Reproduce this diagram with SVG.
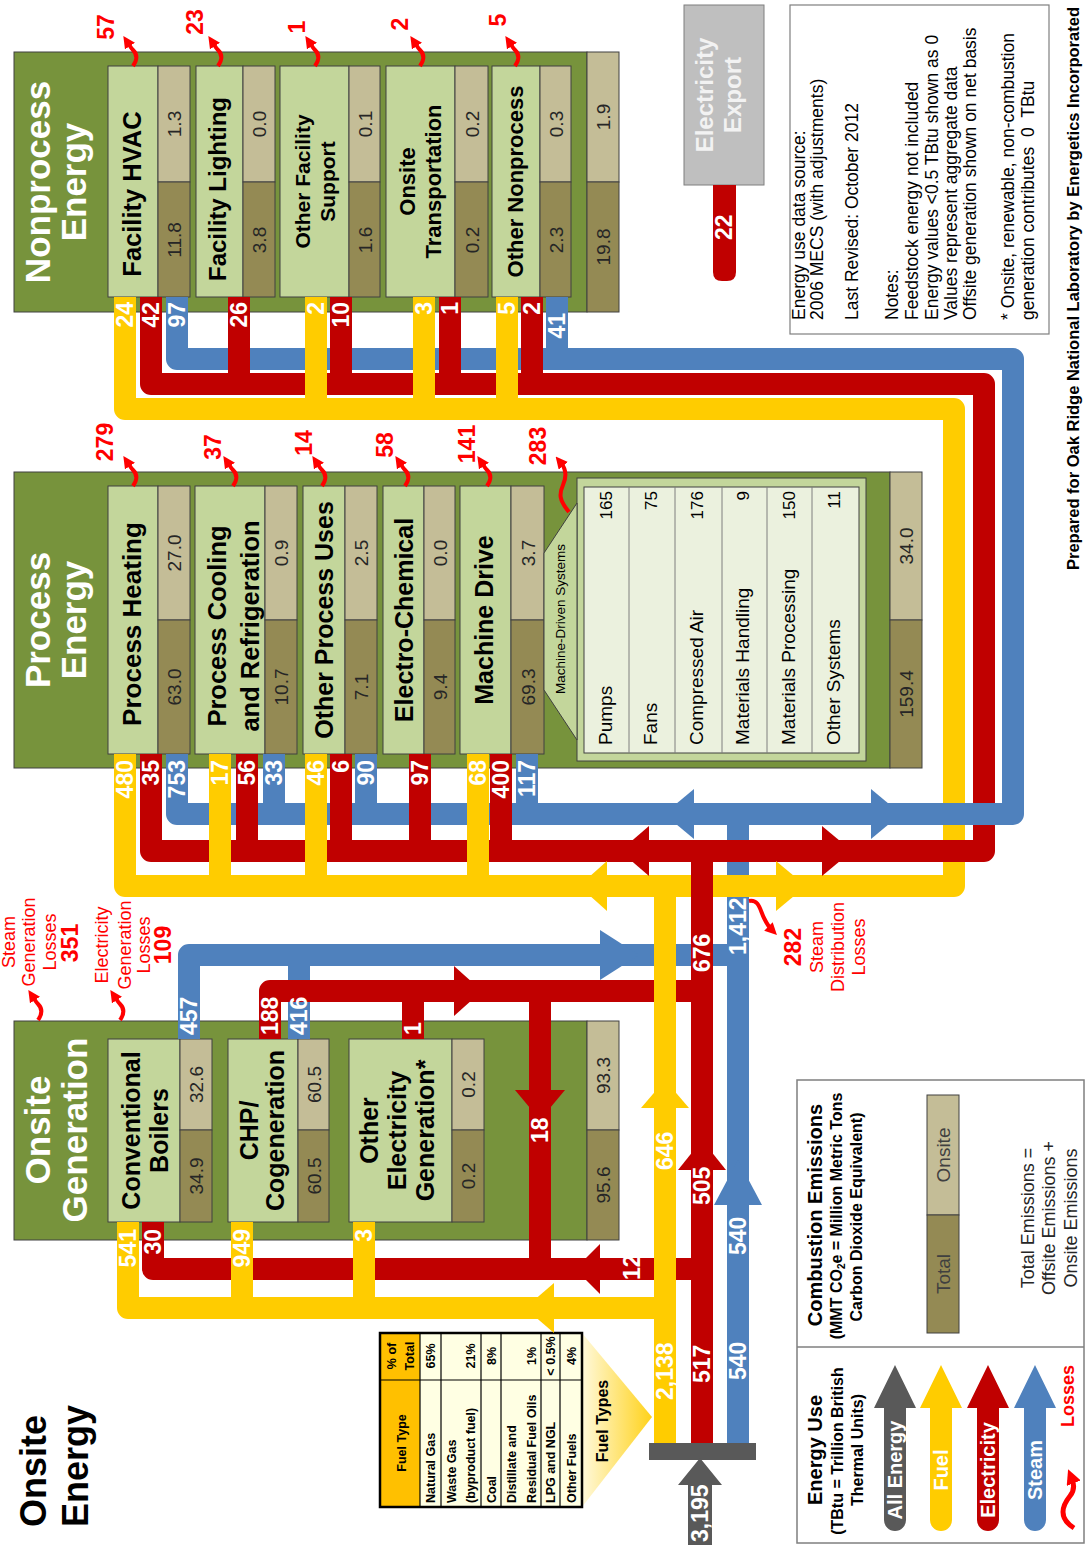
<svg xmlns="http://www.w3.org/2000/svg" width="1086" height="1553" viewBox="0 0 1086 1553">
<defs>
<style>
text{font-family:"Liberation Sans",Arial,Helvetica,sans-serif}
.grn{fill:#77933C;stroke:#404040;stroke-width:1}
.lg{fill:#C3D69B;stroke:#404040;stroke-width:1}
.on{fill:#C4BD97;stroke:#404040;stroke-width:1}
.tot{fill:#948A54;stroke:#404040;stroke-width:1}
.ttl{font-size:35px;font-weight:bold;fill:#fff}
.lb{font-weight:bold;fill:#000}
.v{font-size:19px;fill:#262626}
.fl{font-size:23px;font-weight:bold;fill:#fff}
.ln{font-size:23px;font-weight:bold;fill:#f00}
.lt{font-size:18px;fill:#f00}
.y{fill:none;stroke:#FFCC00;stroke-width:22;stroke-linejoin:round}
.r{fill:none;stroke:#C00000;stroke-width:22;stroke-linejoin:round}
.b{fill:none;stroke:#4F81BD;stroke-width:22;stroke-linejoin:round}
.yf{fill:#FFCC00}.rf{fill:#C00000}.bf{fill:#4F81BD}.gf{fill:#595959}
.sq{fill:none;stroke:#f00;stroke-width:4;marker-end:url(#lh)}
.sq2{fill:none;stroke:#f00;stroke-width:5;marker-end:url(#lh2)}
.nt{font-size:17.5px;fill:#000}
.tb{font-size:12.5px;font-weight:bold;fill:#000}
.tl{stroke:#000;stroke-width:1.2}
.md{font-size:19px;fill:#000}
.mv{font-size:17px;fill:#000}
.lw{font-size:20px;font-weight:bold;fill:#fff}
</style>
<marker id="lh" viewBox="0 0 10 10" refX="3" refY="5" markerWidth="12" markerHeight="12" markerUnits="userSpaceOnUse" orient="auto"><path d="M0,0 L10,5 L0,10 z" fill="#f00"/></marker>
<marker id="lh2" viewBox="0 0 10 10" refX="3" refY="5" markerWidth="15" markerHeight="15" markerUnits="userSpaceOnUse" orient="auto"><path d="M0,0 L10,5 L0,10 z" fill="#f00"/></marker>
<linearGradient id="spot" gradientUnits="userSpaceOnUse" x1="652" y1="0" x2="582" y2="0"><stop offset="0" stop-color="#FFD21A"/><stop offset="1" stop-color="#FFF9DC"/></linearGradient>
</defs>
<rect width="1086" height="1553" fill="#fff"/>

<!-- Nonprocess Energy -->
<g id="nonprocess">
<rect class="grn" x="14" y="52" width="573" height="260"/>
<rect class="on" x="587" y="52" width="32" height="130"/>
<rect class="tot" x="587" y="182" width="32" height="130"/>
<text class="ttl" transform="translate(50,182) rotate(-90)" text-anchor="middle">Nonprocess</text>
<text class="ttl" transform="translate(86,182) rotate(-90)" text-anchor="middle">Energy</text>
<text class="v" transform="translate(610,117) rotate(-90)" text-anchor="middle">1.9</text>
<text class="v" transform="translate(610,247) rotate(-90)" text-anchor="middle">19.8</text>
<g id="facility-hvac">
<rect class="lg" x="108" y="66" width="50" height="231"/>
<rect class="on" x="158" y="66" width="32" height="116"/>
<rect class="tot" x="158" y="182" width="32" height="115"/>
<text class="lb" font-size="25.5" transform="translate(141,194) rotate(-90)" text-anchor="middle">Facility HVAC</text>
<text class="v" transform="translate(181,124) rotate(-90)" text-anchor="middle">1.3</text>
<text class="v" transform="translate(181,240) rotate(-90)" text-anchor="middle">11.8</text>
</g>
<g id="facility-lighting">
<rect class="lg" x="196" y="66" width="47" height="231"/>
<rect class="on" x="243" y="66" width="32" height="116"/>
<rect class="tot" x="243" y="182" width="32" height="115"/>
<text class="lb" font-size="24" transform="translate(226,189) rotate(-90)" text-anchor="middle">Facility Lighting</text>
<text class="v" transform="translate(266,124) rotate(-90)" text-anchor="middle">0.0</text>
<text class="v" transform="translate(266,240) rotate(-90)" text-anchor="middle">3.8</text>
</g>
<g id="other-facility-support">
<rect class="lg" x="280" y="66" width="69" height="231"/>
<rect class="on" x="349" y="66" width="31" height="116"/>
<rect class="tot" x="349" y="182" width="31" height="115"/>
<text class="lb" font-size="21" transform="translate(309.5,181.5) rotate(-90)" text-anchor="middle">Other Facility</text>
<text class="lb" font-size="21" transform="translate(334.5,181.5) rotate(-90)" text-anchor="middle">Support</text>
<text class="v" transform="translate(371.5,124) rotate(-90)" text-anchor="middle">0.1</text>
<text class="v" transform="translate(371.5,240) rotate(-90)" text-anchor="middle">1.6</text>
</g>
<g id="onsite-transportation">
<rect class="lg" x="386" y="66" width="69" height="231"/>
<rect class="on" x="455" y="66" width="33" height="116"/>
<rect class="tot" x="455" y="182" width="33" height="115"/>
<text class="lb" font-size="22" transform="translate(415,181.5) rotate(-90)" text-anchor="middle">Onsite</text>
<text class="lb" font-size="22" transform="translate(441,181.5) rotate(-90)" text-anchor="middle">Transportation</text>
<text class="v" transform="translate(478.5,124) rotate(-90)" text-anchor="middle">0.2</text>
<text class="v" transform="translate(478.5,240) rotate(-90)" text-anchor="middle">0.2</text>
</g>
<g id="other-nonprocess">
<rect class="lg" x="492" y="66" width="48" height="231"/>
<rect class="on" x="540" y="66" width="31" height="116"/>
<rect class="tot" x="540" y="182" width="31" height="115"/>
<text class="lb" font-size="22" transform="translate(523,181.5) rotate(-90)" text-anchor="middle">Other Nonprocess</text>
<text class="v" transform="translate(562.5,124) rotate(-90)" text-anchor="middle">0.3</text>
<text class="v" transform="translate(562.5,240) rotate(-90)" text-anchor="middle">2.3</text>
</g>
</g>

<!-- Process Energy -->
<g id="process">
<rect class="grn" x="14" y="472" width="876" height="296"/>
<rect class="on" x="890" y="472" width="32" height="148"/>
<rect class="tot" x="890" y="620" width="32" height="148"/>
<text class="ttl" transform="translate(50,620) rotate(-90)" text-anchor="middle">Process</text>
<text class="ttl" transform="translate(86,620) rotate(-90)" text-anchor="middle">Energy</text>
<text class="v" transform="translate(913,546) rotate(-90)" text-anchor="middle">34.0</text>
<text class="v" transform="translate(913,694) rotate(-90)" text-anchor="middle">159.4</text>
<g id="process-heating">
<rect class="lg" x="108" y="486" width="50" height="268"/>
<rect class="on" x="158" y="486" width="32" height="134"/>
<rect class="tot" x="158" y="620" width="32" height="134"/>
<text class="lb" font-size="26" transform="translate(141,624) rotate(-90)" text-anchor="middle">Process Heating</text>
<text class="v" transform="translate(181,553) rotate(-90)" text-anchor="middle">27.0</text>
<text class="v" transform="translate(181,687) rotate(-90)" text-anchor="middle">63.0</text>
</g>
<g id="process-cooling">
<rect class="lg" x="195" y="486" width="70" height="268"/>
<rect class="on" x="265" y="486" width="32" height="134"/>
<rect class="tot" x="265" y="620" width="32" height="134"/>
<text class="lb" font-size="25.5" transform="translate(226,626) rotate(-90)" text-anchor="middle">Process Cooling</text>
<text class="lb" font-size="25.5" transform="translate(259,626) rotate(-90)" text-anchor="middle">and Refrigeration</text>
<text class="v" transform="translate(288,553) rotate(-90)" text-anchor="middle">0.9</text>
<text class="v" transform="translate(288,687) rotate(-90)" text-anchor="middle">10.7</text>
</g>
<g id="other-process-uses">
<rect class="lg" x="303" y="486" width="42" height="268"/>
<rect class="on" x="345" y="486" width="32" height="134"/>
<rect class="tot" x="345" y="620" width="32" height="134"/>
<text class="lb" font-size="25" transform="translate(333,620) rotate(-90)" text-anchor="middle">Other Process Uses</text>
<text class="v" transform="translate(368,553) rotate(-90)" text-anchor="middle">2.5</text>
<text class="v" transform="translate(368,687) rotate(-90)" text-anchor="middle">7.1</text>
</g>
<g id="electro-chemical">
<rect class="lg" x="383" y="486" width="41" height="268"/>
<rect class="on" x="424" y="486" width="31" height="134"/>
<rect class="tot" x="424" y="620" width="31" height="134"/>
<text class="lb" font-size="25" transform="translate(413,620) rotate(-90)" text-anchor="middle">Electro-Chemical</text>
<text class="v" transform="translate(446.5,553) rotate(-90)" text-anchor="middle">0.0</text>
<text class="v" transform="translate(446.5,687) rotate(-90)" text-anchor="middle">9.4</text>
</g>
<g id="machine-drive">
<rect class="lg" x="460" y="486" width="51" height="268"/>
<rect class="on" x="511" y="486" width="33" height="134"/>
<rect class="tot" x="511" y="620" width="33" height="134"/>
<text class="lb" font-size="25" transform="translate(493,620) rotate(-90)" text-anchor="middle">Machine Drive</text>
<text class="v" transform="translate(534.5,553) rotate(-90)" text-anchor="middle">3.7</text>
<text class="v" transform="translate(534.5,687) rotate(-90)" text-anchor="middle">69.3</text>
</g>
<g id="machine-driven-systems">
<rect class="lg" x="577" y="478" width="289" height="283"/>
<polygon class="lg" points="544,553 577,503 577,740 544,690"/>
<rect x="584" y="487" width="275" height="266" fill="#EBF1DE" stroke="#404040" stroke-width="1"/>
<g stroke="#7F7F7F" stroke-width="1">
<line x1="629" y1="487" x2="629" y2="753"/><line x1="675" y1="487" x2="675" y2="753"/><line x1="722" y1="487" x2="722" y2="753"/><line x1="767" y1="487" x2="767" y2="753"/><line x1="812" y1="487" x2="812" y2="753"/>
</g>
<text font-size="13.5" fill="#000" transform="translate(565,619) rotate(-90)" text-anchor="middle">Machine-Driven Systems</text>
<text class="md" transform="translate(612,745) rotate(-90)">Pumps</text>
<text class="md" transform="translate(657,745) rotate(-90)">Fans</text>
<text class="md" transform="translate(703,745) rotate(-90)">Compressed Air</text>
<text class="md" transform="translate(749,745) rotate(-90)">Materials Handling</text>
<text class="md" transform="translate(795,745) rotate(-90)">Materials Processing</text>
<text class="md" transform="translate(840,745) rotate(-90)">Other Systems</text>
<text class="mv" transform="translate(612,491) rotate(-90)" text-anchor="end">165</text>
<text class="mv" transform="translate(657,491) rotate(-90)" text-anchor="end">75</text>
<text class="mv" transform="translate(703,491) rotate(-90)" text-anchor="end">176</text>
<text class="mv" transform="translate(749,491) rotate(-90)" text-anchor="end">9</text>
<text class="mv" transform="translate(795,491) rotate(-90)" text-anchor="end">150</text>
<text class="mv" transform="translate(840,491) rotate(-90)" text-anchor="end">11</text>
</g>
</g>

<!-- Onsite Generation -->
<g id="onsite-generation">
<rect class="grn" x="14" y="1021" width="573" height="219"/>
<rect class="on" x="587" y="1021" width="32" height="109"/>
<rect class="tot" x="587" y="1130" width="32" height="110"/>
<text class="ttl" transform="translate(50,1130) rotate(-90)" text-anchor="middle">Onsite</text>
<text class="ttl" transform="translate(87,1130) rotate(-90)" text-anchor="middle">Generation</text>
<text class="v" transform="translate(610,1075.5) rotate(-90)" text-anchor="middle">93.3</text>
<text class="v" transform="translate(610,1185) rotate(-90)" text-anchor="middle">95.6</text>
<g id="conventional-boilers">
<rect class="lg" x="108" y="1039" width="72" height="183"/>
<rect class="on" x="180" y="1039" width="32" height="91"/>
<rect class="tot" x="180" y="1130" width="32" height="92"/>
<text class="lb" font-size="25" transform="translate(140,1130.5) rotate(-90)" text-anchor="middle">Conventional</text>
<text class="lb" font-size="25" transform="translate(168,1130.5) rotate(-90)" text-anchor="middle">Boilers</text>
<text class="v" transform="translate(203,1084.5) rotate(-90)" text-anchor="middle">32.6</text>
<text class="v" transform="translate(203,1176) rotate(-90)" text-anchor="middle">34.9</text>
</g>
<g id="chp-cogeneration">
<rect class="lg" x="228" y="1039" width="70" height="183"/>
<rect class="on" x="298" y="1039" width="31" height="91"/>
<rect class="tot" x="298" y="1130" width="31" height="92"/>
<text class="lb" font-size="25" transform="translate(258,1130.5) rotate(-90)" text-anchor="middle">CHP/</text>
<text class="lb" font-size="25" transform="translate(284,1130.5) rotate(-90)" text-anchor="middle">Cogeneration</text>
<text class="v" transform="translate(320.5,1084.5) rotate(-90)" text-anchor="middle">60.5</text>
<text class="v" transform="translate(320.5,1176) rotate(-90)" text-anchor="middle">60.5</text>
</g>
<g id="other-electricity-generation">
<rect class="lg" x="349" y="1039" width="103" height="183"/>
<rect class="on" x="452" y="1039" width="32" height="91"/>
<rect class="tot" x="452" y="1130" width="32" height="92"/>
<text class="lb" font-size="25" transform="translate(378,1130.5) rotate(-90)" text-anchor="middle">Other</text>
<text class="lb" font-size="25" transform="translate(406,1130.5) rotate(-90)" text-anchor="middle">Electricity</text>
<text class="lb" font-size="25" transform="translate(434,1130.5) rotate(-90)" text-anchor="middle">Generation*</text>
<text class="v" transform="translate(475,1084.5) rotate(-90)" text-anchor="middle">0.2</text>
<text class="v" transform="translate(475,1176) rotate(-90)" text-anchor="middle">0.2</text>
</g>
</g>

<!-- Electricity Export -->
<g id="electricity-export">
<rect x="684" y="5" width="80" height="180" fill="#BFBFBF" stroke="#7F7F7F" stroke-width="1"/>
<text font-size="24" font-weight="bold" fill="#F2F2F2" transform="translate(713,95) rotate(-90)" text-anchor="middle">Electricity</text>
<text font-size="24" font-weight="bold" fill="#F2F2F2" transform="translate(741,95) rotate(-90)" text-anchor="middle">Export</text>
</g>

<!-- Fuel types table -->
<g id="fuel-types">
<polygon points="582,1333 652,1417 582,1507" fill="url(#spot)"/>
<rect x="380" y="1333" width="40" height="174" fill="#FFC000"/>
<rect x="420" y="1333" width="162" height="174" fill="#FFFFE3"/>
<g class="tl">
<line x1="420" y1="1333" x2="420" y2="1507"/><line x1="441" y1="1333" x2="441" y2="1507"/><line x1="481" y1="1333" x2="481" y2="1507"/><line x1="501" y1="1333" x2="501" y2="1507"/><line x1="541" y1="1333" x2="541" y2="1507"/><line x1="560" y1="1333" x2="560" y2="1507"/><line x1="380" y1="1380" x2="582" y2="1380"/>
</g>
<rect x="380" y="1333" width="202" height="174" fill="none" stroke="#000" stroke-width="2.5"/>
<text class="tb" transform="translate(406,1443) rotate(-90)" text-anchor="middle">Fuel Type</text>
<text class="tb" transform="translate(396,1356) rotate(-90)" text-anchor="middle">% of</text>
<text class="tb" transform="translate(414,1356) rotate(-90)" text-anchor="middle">Total</text>
<text class="tb" transform="translate(435,1503) rotate(-90)">Natural Gas</text>
<text class="tb" transform="translate(435,1356) rotate(-90)" text-anchor="middle">65%</text>
<text class="tb" transform="translate(456,1503) rotate(-90)">Waste Gas</text>
<text class="tb" transform="translate(475,1503) rotate(-90)">(byproduct fuel)</text>
<text class="tb" transform="translate(475,1356) rotate(-90)" text-anchor="middle">21%</text>
<text class="tb" transform="translate(496,1503) rotate(-90)">Coal</text>
<text class="tb" transform="translate(496,1356) rotate(-90)" text-anchor="middle">8%</text>
<text class="tb" transform="translate(516,1503) rotate(-90)">Distillate and</text>
<text class="tb" transform="translate(536,1503) rotate(-90)">Residual Fuel Oils</text>
<text class="tb" transform="translate(536,1356) rotate(-90)" text-anchor="middle">1%</text>
<text class="tb" transform="translate(555,1503) rotate(-90)">LPG and NGL</text>
<text class="tb" transform="translate(555,1356) rotate(-90)" text-anchor="middle">&lt; 0.5%</text>
<text class="tb" transform="translate(576,1503) rotate(-90)">Other Fuels</text>
<text class="tb" transform="translate(576,1356) rotate(-90)" text-anchor="middle">4%</text>
<text font-size="16" font-weight="bold" fill="#000" transform="translate(608,1421) rotate(-90)" text-anchor="middle">Fuel Types</text>
</g>

<!-- Connectors / energy flows -->
<g id="connectors">
<path class="b" d="M738,814 V1443"/>
<path class="b" d="M189,1039 V955 H738 M299,1039 V955"/>
<path class="y" d="M125,297 V409 H954 V886 H125 V754"/>
<path class="r" d="M151,297 V384 H984 V851 H151 V754"/>
<path class="b" d="M177,297 V359 H1013 V814 H177 V754"/>
<path class="b" d="M557,297 V359 M274,754 V814 M366,754 V814 M527,754 V814"/>
<path class="r" d="M239,297 V384 M341,297 V384 M450,297 V384 M532,297 V384 M247,754 V851 M341,754 V851 M420,754 V851 M501,754 V851"/>
<path class="r" d="M702,851 V1443 M270,1039 V991 H702 M413,1039 V991 M540,991 V1269 M153,1222 V1269 H702"/>
<path class="y" d="M316,297 V409 M424,297 V409 M507,297 V409 M220,754 V886 M316,754 V886 M478,754 V886"/>
<path class="y" d="M665,886 V1443 M128,1222 V1308 H665 M242,1222 V1308 M364,1222 V1308"/>
<polygon class="bf" points="664,814 694,789 694,839"/>
<polygon class="bf" points="901,814 871,789 871,839"/>
<polygon class="rf" points="620,851 649,826 649,876"/>
<polygon class="rf" points="852,851 822,826 822,876"/>
<polygon class="yf" points="579,886 607,861 607,911"/>
<polygon class="yf" points="806,886 776,861 776,911"/>
<polygon class="bf" points="639,955 600,930 600,980"/>
<polygon class="rf" points="482,991 454,966 454,1016"/>
<polygon class="rf" points="540,1120 515,1090 565,1090"/>
<polygon class="yf" points="525,1308 554,1283 554,1333"/>
<polygon class="rf" points="575,1269 600,1244 600,1294"/>
<polygon class="yf" points="665,1080 641,1108 689,1108"/>
<polygon class="rf" points="702,1140 678,1170 726,1170"/>
<polygon class="bf" points="738,1160 714,1205 762,1205"/>
<rect class="gf" x="649" y="1443" width="107" height="17"/>
<path class="gf" d="M688,1545 V1485 H678 L700,1458 L722,1485 H712 V1545 Z"/>
<path class="rf" d="M713,185 V272 Q713,281 722,281 H727 Q736,281 736,272 V185 Z"/>
</g>

<!-- Flow labels -->
<g id="flow-labels">
<text class="fl" transform="translate(133,302) rotate(-90)" text-anchor="end">24</text>
<text class="fl" transform="translate(159,302) rotate(-90)" text-anchor="end">42</text>
<text class="fl" transform="translate(185,302) rotate(-90)" text-anchor="end">97</text>
<text class="fl" transform="translate(247,302) rotate(-90)" text-anchor="end">26</text>
<text class="fl" transform="translate(324,302) rotate(-90)" text-anchor="end">2</text>
<text class="fl" transform="translate(349,302) rotate(-90)" text-anchor="end">10</text>
<text class="fl" transform="translate(432,302) rotate(-90)" text-anchor="end">3</text>
<text class="fl" transform="translate(458,302) rotate(-90)" text-anchor="end">1</text>
<text class="fl" transform="translate(515,302) rotate(-90)" text-anchor="end">5</text>
<text class="fl" transform="translate(540,302) rotate(-90)" text-anchor="end">2</text>
<text class="fl" transform="translate(565,313) rotate(-90)" text-anchor="end">41</text>
<text class="fl" transform="translate(133,760) rotate(-90)" text-anchor="end">480</text>
<text class="fl" transform="translate(159,760) rotate(-90)" text-anchor="end">35</text>
<text class="fl" transform="translate(185,760) rotate(-90)" text-anchor="end">753</text>
<text class="fl" transform="translate(228,760) rotate(-90)" text-anchor="end">17</text>
<text class="fl" transform="translate(255,760) rotate(-90)" text-anchor="end">56</text>
<text class="fl" transform="translate(282,760) rotate(-90)" text-anchor="end">33</text>
<text class="fl" transform="translate(324,760) rotate(-90)" text-anchor="end">46</text>
<text class="fl" transform="translate(349,760) rotate(-90)" text-anchor="end">6</text>
<text class="fl" transform="translate(374,760) rotate(-90)" text-anchor="end">90</text>
<text class="fl" transform="translate(428,760) rotate(-90)" text-anchor="end">97</text>
<text class="fl" transform="translate(486,760) rotate(-90)" text-anchor="end">68</text>
<text class="fl" transform="translate(509,760) rotate(-90)" text-anchor="end">400</text>
<text class="fl" transform="translate(535,760) rotate(-90)" text-anchor="end">117</text>
<text class="fl" transform="translate(197,1035) rotate(-90)">457</text>
<text class="fl" transform="translate(278,1035) rotate(-90)">188</text>
<text class="fl" transform="translate(307,1035) rotate(-90)">416</text>
<text class="fl" transform="translate(421,1035) rotate(-90)">1</text>
<text class="fl" transform="translate(136,1229) rotate(-90)" text-anchor="end">541</text>
<text class="fl" transform="translate(161,1229) rotate(-90)" text-anchor="end">30</text>
<text class="fl" transform="translate(250,1229) rotate(-90)" text-anchor="end">949</text>
<text class="fl" transform="translate(372,1229) rotate(-90)" text-anchor="end">3</text>
<text class="fl" transform="translate(548,1143) rotate(-90)">18</text>
<text class="fl" transform="translate(673,1170) rotate(-90)">646</text>
<text class="fl" transform="translate(710,972) rotate(-90)">676</text>
<text class="fl" transform="translate(746,955) rotate(-90)">1,412</text>
<text class="fl" transform="translate(673,1400) rotate(-90)">2,138</text>
<text class="fl" transform="translate(710,1383) rotate(-90)">517</text>
<text class="fl" transform="translate(746,1380) rotate(-90)">540</text>
<text class="fl" transform="translate(746,1255) rotate(-90)">540</text>
<text class="fl" transform="translate(710,1205) rotate(-90)">505</text>
<text class="fl" transform="translate(640,1280) rotate(-90)">12</text>
<text class="fl" transform="translate(732,240) rotate(-90)">22</text>
<text class="fl" transform="translate(708,1542) rotate(-90)">3,195</text>
</g>

<!-- Losses -->
<g id="losses">
<path class="sq" d="M0,0 C5,-7 4,-12 0,-16 C-2,-18 -3,-20 -5,-23" transform="translate(133,66)"/>
<path class="sq" d="M0,0 C5,-7 4,-12 0,-16 C-2,-18 -3,-20 -5,-23" transform="translate(218,66)"/>
<path class="sq" d="M0,0 C5,-7 4,-12 0,-16 C-2,-18 -3,-20 -5,-23" transform="translate(315,66)"/>
<path class="sq" d="M0,0 C5,-7 4,-12 0,-16 C-2,-18 -3,-20 -5,-23" transform="translate(420,66)"/>
<path class="sq" d="M0,0 C5,-7 4,-12 0,-16 C-2,-18 -3,-20 -5,-23" transform="translate(515,66)"/>
<path class="sq" d="M0,0 C5,-7 4,-12 0,-16 C-2,-18 -3,-20 -5,-23" transform="translate(133,486)"/>
<path class="sq" d="M0,0 C5,-7 4,-12 0,-16 C-2,-18 -3,-20 -5,-23" transform="translate(233,486)"/>
<path class="sq" d="M0,0 C5,-7 4,-12 0,-16 C-2,-18 -3,-20 -5,-23" transform="translate(322,486)"/>
<path class="sq" d="M0,0 C5,-7 4,-12 0,-16 C-2,-18 -3,-20 -5,-23" transform="translate(405,486)"/>
<path class="sq" d="M0,0 C5,-7 4,-12 0,-16 C-2,-18 -3,-20 -5,-23" transform="translate(487,486)"/>
<path class="sq" d="M0,0 C5,-7 4,-12 0,-16 C-2,-18 -3,-20 -5,-23" transform="translate(38,1020)"/>
<path class="sq" d="M0,0 C5,-7 4,-12 0,-16 C-2,-18 -3,-20 -5,-23" transform="translate(120,1020)"/>
<path class="sq" d="M569,512 C559,500 559,494 563,485 C567,476 566,469 561,463"/>
<path class="sq" d="M749,901 C759,899 760,910 764,918 C767,924 769,927 771,929"/>
<text class="ln" transform="translate(114,27) rotate(-90)" text-anchor="middle">57</text>
<text class="ln" transform="translate(203,22) rotate(-90)" text-anchor="middle">23</text>
<text class="ln" transform="translate(305,27) rotate(-90)" text-anchor="middle">1</text>
<text class="ln" transform="translate(408,24) rotate(-90)" text-anchor="middle">2</text>
<text class="ln" transform="translate(506,20) rotate(-90)" text-anchor="middle">5</text>
<text class="ln" transform="translate(113,442) rotate(-90)" text-anchor="middle">279</text>
<text class="ln" transform="translate(221,447) rotate(-90)" text-anchor="middle">37</text>
<text class="ln" transform="translate(312,443) rotate(-90)" text-anchor="middle">14</text>
<text class="ln" transform="translate(393,445) rotate(-90)" text-anchor="middle">58</text>
<text class="ln" transform="translate(475,444) rotate(-90)" text-anchor="middle">141</text>
<text class="ln" transform="translate(546,446) rotate(-90)" text-anchor="middle">283</text>
<text class="lt" transform="translate(15,942) rotate(-90)" text-anchor="middle">Steam</text>
<text class="lt" transform="translate(35,942) rotate(-90)" text-anchor="middle">Generation</text>
<text class="lt" transform="translate(56,942) rotate(-90)" text-anchor="middle">Losses</text>
<text class="ln" transform="translate(78,943) rotate(-90)" text-anchor="middle">351</text>
<text class="lt" transform="translate(108,945) rotate(-90)" text-anchor="middle">Electricity</text>
<text class="lt" transform="translate(131,945) rotate(-90)" text-anchor="middle">Generation</text>
<text class="lt" transform="translate(150,945) rotate(-90)" text-anchor="middle">Losses</text>
<text class="ln" transform="translate(171,945) rotate(-90)" text-anchor="middle">109</text>
<text class="ln" transform="translate(801,947) rotate(-90)" text-anchor="middle">282</text>
<text class="lt" transform="translate(823,947) rotate(-90)" text-anchor="middle">Steam</text>
<text class="lt" transform="translate(844,947) rotate(-90)" text-anchor="middle">Distribution</text>
<text class="lt" transform="translate(865,947) rotate(-90)" text-anchor="middle">Losses</text>
</g>

<!-- Title -->
<g id="title">
<text font-size="36" font-weight="bold" fill="#000" transform="translate(46,1527) rotate(-90)">Onsite</text>
<text font-size="36" font-weight="bold" fill="#000" transform="translate(88,1527) rotate(-90)">Energy</text>
</g>

<!-- Notes -->
<g id="notes">
<rect x="790" y="5" width="259" height="329" fill="#fff" stroke="#7F7F7F" stroke-width="1.2"/>
<text class="nt" transform="translate(805,320) rotate(-90)">Energy use data source:</text>
<text class="nt" transform="translate(823,320) rotate(-90)">2006 MECS (with adjustments)</text>
<text class="nt" transform="translate(858,320) rotate(-90)">Last Revised: October 2012</text>
<text class="nt" transform="translate(898,320) rotate(-90)">Notes:</text>
<text class="nt" transform="translate(918,320) rotate(-90)">Feedstock energy not included</text>
<text class="nt" transform="translate(938,320) rotate(-90)">Energy values &lt;0.5 TBtu shown as 0</text>
<text class="nt" transform="translate(957,320) rotate(-90)">Values represent aggregate data</text>
<text class="nt" transform="translate(976,320) rotate(-90)">Offsite generation shown on net basis</text>
<text class="nt" transform="translate(1014,320) rotate(-90)">* Onsite, renewable, non-combustion</text>
<text class="nt" transform="translate(1034,320) rotate(-90)">generation contributes &#160;0 &#160;TBtu</text>
</g>
<text font-size="16.5" font-weight="bold" fill="#000" transform="translate(1079,570) rotate(-90)">Prepared for Oak Ridge National Laboratory by Energetics Incorporated</text>

<!-- Legend -->
<g id="legend">
<rect x="797" y="1080" width="287" height="463" fill="#fff" stroke="#7F7F7F" stroke-width="1.5"/>
<line x1="797" y1="1347" x2="1084" y2="1347" stroke="#7F7F7F" stroke-width="1.5"/>
<text font-size="20" font-weight="bold" fill="#000" transform="translate(822,1215) rotate(-90)" text-anchor="middle">Combustion Emissions</text>
<text font-size="16" font-weight="bold" fill="#000" transform="translate(842,1216) rotate(-90)" text-anchor="middle">(MMT CO<tspan font-size="10" dy="3">2</tspan><tspan dy="-3">e = Million Metric Tons</tspan></text>
<text font-size="16" font-weight="bold" fill="#000" transform="translate(862,1217) rotate(-90)" text-anchor="middle">Carbon Dioxide Equivalent)</text>
<rect class="on" x="927" y="1095" width="32" height="120"/>
<rect class="tot" x="927" y="1215" width="32" height="118"/>
<text font-size="19" fill="#404040" transform="translate(950,1155) rotate(-90)" text-anchor="middle">Onsite</text>
<text font-size="19" fill="#404040" transform="translate(950,1274) rotate(-90)" text-anchor="middle">Total</text>
<text font-size="18" fill="#262626" transform="translate(1034,1218) rotate(-90)" text-anchor="middle">Total Emissions =</text>
<text font-size="18" fill="#262626" transform="translate(1055,1218) rotate(-90)" text-anchor="middle">Offsite Emissions +</text>
<text font-size="18" fill="#262626" transform="translate(1077,1218) rotate(-90)" text-anchor="middle">Onsite Emissions</text>
<text font-size="20" font-weight="bold" fill="#000" transform="translate(822,1450) rotate(-90)" text-anchor="middle">Energy Use</text>
<text font-size="16" font-weight="bold" fill="#000" transform="translate(843,1451) rotate(-90)" text-anchor="middle">(TBtu = Trillion British</text>
<text font-size="16" font-weight="bold" fill="#000" transform="translate(863,1450) rotate(-90)" text-anchor="middle">Thermal Units)</text>
<path class="gf" d="M884,1408 V1520 A11,11 0 0 0 906,1520 V1408 H916 L895,1365 L874,1408 Z"/>
<path class="yf" d="M930,1408 V1520 A11,11 0 0 0 952,1520 V1408 H962 L941,1365 L920,1408 Z"/>
<path class="rf" d="M977,1408 V1520 A11,11 0 0 0 999,1520 V1408 H1009 L988,1365 L967,1408 Z"/>
<path class="bf" d="M1024,1408 V1520 A11,11 0 0 0 1046,1520 V1408 H1056 L1035,1365 L1014,1408 Z"/>
<text class="lw" transform="translate(902,1470) rotate(-90)" text-anchor="middle">All Energy</text>
<text class="lw" transform="translate(948,1470) rotate(-90)" text-anchor="middle">Fuel</text>
<text class="lw" transform="translate(995,1470) rotate(-90)" text-anchor="middle">Electricity</text>
<text class="lw" transform="translate(1042,1470) rotate(-90)" text-anchor="middle">Steam</text>
<path class="sq2" d="M1074,1528 C1058,1518 1062,1506 1070,1496 C1075,1490 1074,1484 1072,1479"/>
<text font-size="18" font-weight="bold" fill="#f00" transform="translate(1074,1396) rotate(-90)" text-anchor="middle">Losses</text>
</g>
</svg>
